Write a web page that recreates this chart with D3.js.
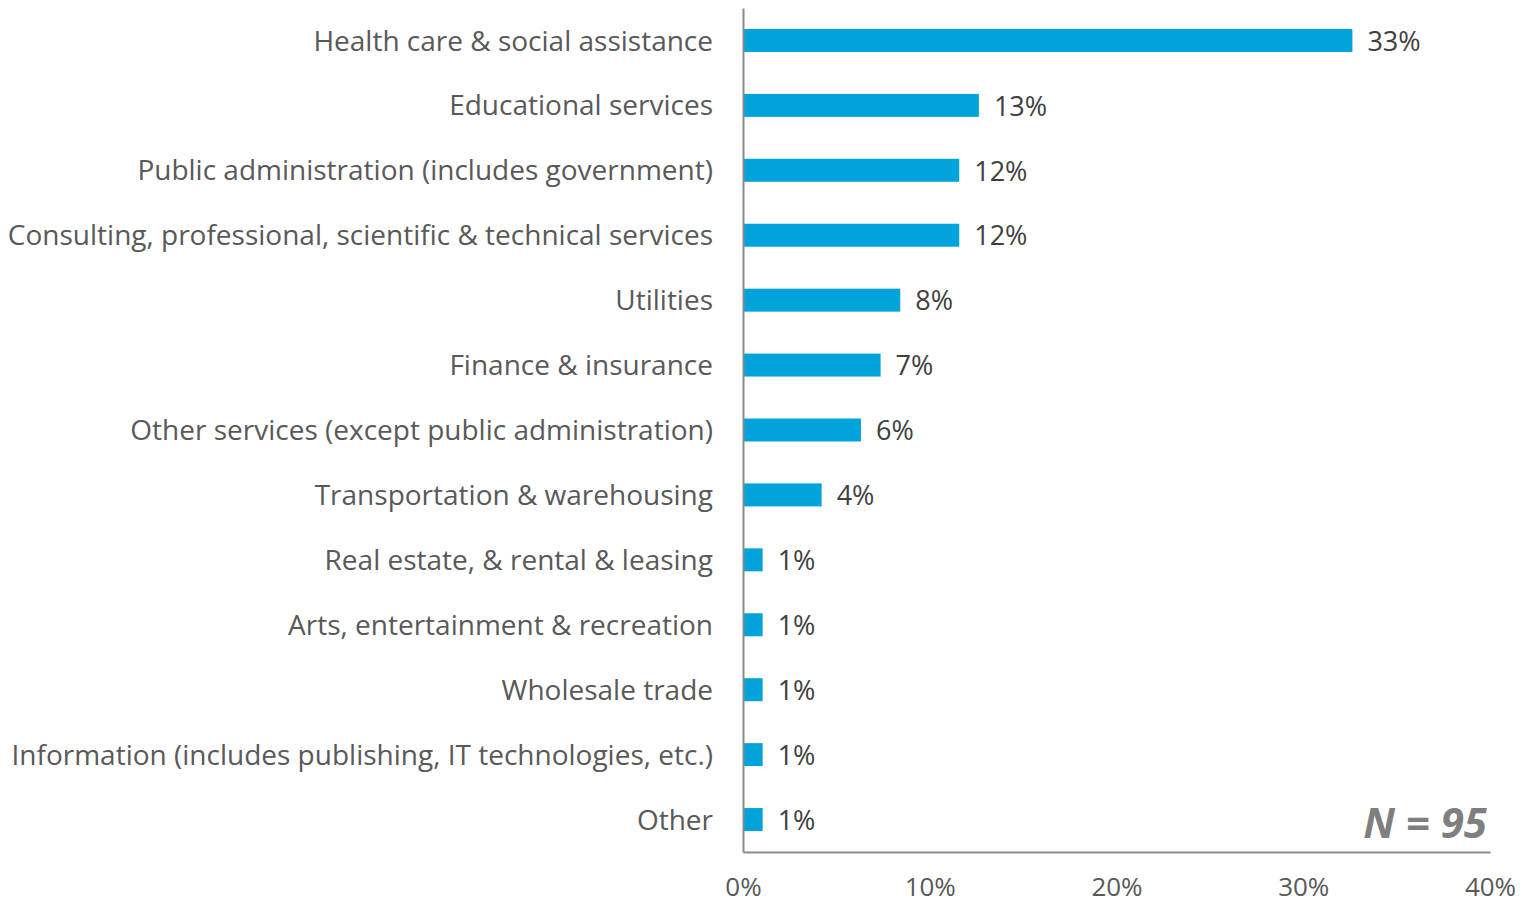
<!DOCTYPE html>
<html>
<head>
<meta charset="utf-8">
<script src="https://cdn.jsdelivr.net/npm/d3@7"></script>
<style>
  html, body { margin: 0; padding: 0; background: #fff; }
  svg { display: block; font-family: "Open Sans", Lato, sans-serif; }
</style>
</head>
<body>
<svg id="chart" width="1533" height="906"></svg>
<script>
// Industry of respondents (counts out of N respondents)
const categories = [
  "Health care & social assistance",
  "Educational services",
  "Public administration (includes government)",
  "Consulting, professional, scientific & technical services",
  "Utilities",
  "Finance & insurance",
  "Other services (except public administration)",
  "Transportation & warehousing",
  "Real estate, & rental & leasing",
  "Arts, entertainment & recreation",
  "Wholesale trade",
  "Information (includes publishing, IT technologies, etc.)",
  "Other"
];
const counts = [31, 12, 11, 11, 8, 7, 6, 4, 1, 1, 1, 1, 1];
const totalN = 95;
const xTicks = [0, 0.1, 0.2, 0.3, 0.4];

const data = categories.map((c, i) => ({ category: c, share: counts[i] / totalN }));

const FONT = "'Open Sans', Lato, sans-serif";
const svg = d3.select("#chart");
const margin = { left: 743, right: 43, top: 8, bottom: 54 };
const width = 1533, height = 906;

const x = d3.scaleLinear().domain([0, 0.4]).range([margin.left, width - margin.right]);
const y = d3.scaleBand().domain(categories)
  .range([margin.top, height - margin.bottom])
  .paddingInner(0.646).paddingOuter(0.323);

const fmt = d3.format(".0%");

// bars
svg.append("g").selectAll("rect").data(data).join("rect")
  .attr("x", x(0))
  .attr("y", d => y(d.category))
  .attr("width", d => x(d.share) - x(0))
  .attr("height", y.bandwidth())
  .attr("fill", "#00a3da");

// value labels
svg.append("g").selectAll("text").data(data).join("text")
  .attr("x", d => x(d.share) + 15)
  .attr("y", d => y(d.category) + y.bandwidth() / 2)
  .attr("dy", "0.38em")
  .attr("font-size", 27)
  .attr("fill", "#404040")
  .text(d => fmt(d.share));

// category axis
const yAxis = d3.axisLeft(y).tickSize(0).tickPadding(30);
const gy = svg.append("g").attr("transform", `translate(${x(0)},0)`).call(yAxis);
gy.select(".domain").attr("stroke", "#8c8c8c").attr("stroke-width", 2);
gy.selectAll("text").attr("font-size", 28).attr("fill", "#595959")
  .attr("font-family", FONT).attr("dy", "0.36em");

// value axis
const xAxis = d3.axisBottom(x).tickValues(xTicks).tickFormat(fmt).tickSize(0).tickPadding(26);
const gx = svg.append("g").attr("transform", `translate(0,${height - margin.bottom})`).call(xAxis);
gx.select(".domain").attr("stroke", "#8c8c8c").attr("stroke-width", 2);
gx.selectAll("text").attr("font-size", 26).attr("fill", "#595959")
  .attr("font-family", FONT);

// sample size note
svg.append("text")
  .attr("x", x(0.4) - 3)
  .attr("y", 838)
  .attr("text-anchor", "end")
  .attr("font-size", 42)
  .attr("font-weight", "bold")
  .attr("font-style", "italic")
  .attr("fill", "#7f7f7f")
  .text(`N = ${totalN}`);
</script>
</body>
</html>
